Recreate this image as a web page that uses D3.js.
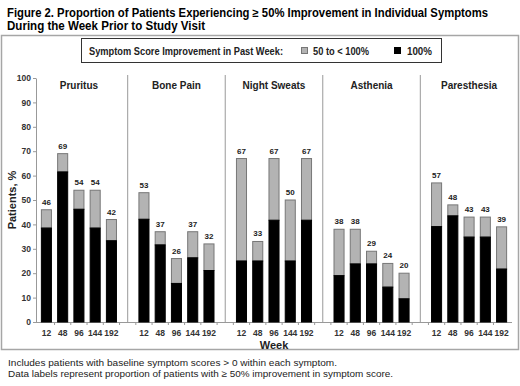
<!DOCTYPE html>
<html>
<head>
<meta charset="utf-8">
<script src="https://cdn.jsdelivr.net/npm/d3@7"></script>
<style>
  body { margin: 0; background: #fff; }
  text { font-family: "Liberation Sans", Arial, sans-serif; }
</style>
</head>
<body>
<div id="chart"></div>
<script>
const weeks = ["12", "48", "96", "144", "192"];
const symptoms = ["Pruritus", "Bone Pain", "Night Sweats", "Asthenia", "Paresthesia"];
// % of patients with 100% improvement (black part)
const full = [
  [38.5, 61.5, 46.2, 38.5, 33.3],
  [42.1, 31.6, 15.8, 26.3, 21.1],
  [25, 25, 41.7, 25, 41.7],
  [19.0, 23.8, 23.8, 14.3, 9.5],
  [39.1, 43.5, 34.8, 34.8, 21.7]
];
// % with >= 50% improvement (bar total / data label)
const total = [
  [46, 69, 54, 54, 42],
  [53, 37, 26, 37, 32],
  [67, 33, 67, 50, 67],
  [38, 38, 29, 24, 20],
  [57, 48, 43, 43, 39]
];
const yTicks = [0, 10, 20, 30, 40, 50, 60, 70, 80, 90, 100];

const W = 520, H = 386;
const svg = d3.select("#chart").append("svg")
  .attr("width", W).attr("height", H);

// categories: 5 weeks per symptom, blank slot between symptoms
const cats = [];
symptoms.forEach((s, i) => {
  weeks.forEach(w => cats.push(s + "|" + w));
  if (i < symptoms.length - 1) cats.push("gap" + i);
});

const x = d3.scaleBand().domain(cats).range([36, 512])
  .paddingInner(0.32).paddingOuter(0.3);
const y = d3.scaleLinear().domain([0, 100]).range([322, 78]);

// title
svg.append("text").attr("x", 7).attr("y", 16.5)
  .attr("font-size", 12).attr("font-weight", "bold")
  .attr("textLength", 481).attr("lengthAdjust", "spacingAndGlyphs")
  .text("Figure 2. Proportion of Patients Experiencing \u2265 50% Improvement in Individual Symptoms");
svg.append("text").attr("x", 7).attr("y", 29.5)
  .attr("font-size", 12).attr("font-weight", "bold")
  .attr("textLength", 198).attr("lengthAdjust", "spacingAndGlyphs")
  .text("During the Week Prior to Study Visit");

// outer frame
svg.append("rect").attr("x", 1.5).attr("y", 35.5).attr("width", 517).attr("height", 314)
  .attr("fill", "none").attr("stroke", "#a6a6a6").attr("stroke-width", 1.5);

// legend
const lg = svg.append("g");
lg.append("rect").attr("x", 81.5).attr("y", 38.5).attr("width", 360).attr("height", 24)
  .attr("fill", "#fff").attr("stroke", "#333");
lg.append("text").attr("x", 89).attr("y", 54.5).attr("font-size", 10).attr("font-weight", "bold")
  .attr("fill", "#222")
  .attr("textLength", 194).attr("lengthAdjust", "spacingAndGlyphs")
  .text("Symptom Score Improvement in Past Week:");
lg.append("rect").attr("x", 301.5).attr("y", 47.5).attr("width", 6).attr("height", 6)
  .attr("fill", "#b3b3b3").attr("stroke", "#777");
lg.append("text").attr("x", 313).attr("y", 54.5).attr("font-size", 10).attr("font-weight", "bold")
  .attr("fill", "#222")
  .attr("textLength", 56).attr("lengthAdjust", "spacingAndGlyphs")
  .text("50 to < 100%");
lg.append("rect").attr("x", 394.5).attr("y", 47.5).attr("width", 6).attr("height", 6)
  .attr("fill", "#000").attr("stroke", "#000");
lg.append("text").attr("x", 407).attr("y", 54.5).attr("font-size", 10).attr("font-weight", "bold")
  .attr("fill", "#222")
  .attr("textLength", 25).attr("lengthAdjust", "spacingAndGlyphs")
  .text("100%");

// y axis
const yAxis = svg.append("g").attr("transform", "translate(36,0)")
  .call(d3.axisLeft(y).tickValues(yTicks).tickSize(3).tickSizeOuter(0));
yAxis.select(".domain").attr("stroke", "#999");
yAxis.selectAll(".tick line").attr("stroke", "#999");
yAxis.selectAll(".tick text").attr("font-size", 8.5).attr("font-weight", "bold")
  .attr("fill", "#333").attr("x", -5)
  .style("font-family", "'Liberation Sans', Arial, sans-serif");

svg.append("text")
  .attr("transform", "translate(16,200) rotate(-90)")
  .attr("text-anchor", "middle").attr("font-size", 11).attr("font-weight", "bold")
  .attr("fill", "#222")
  .text("Patients, %");

// x axis line + small ticks between categories
svg.append("line").attr("x1", 36).attr("x2", 512).attr("y1", 322.5).attr("y2", 322.5)
  .attr("stroke", "#999");
svg.selectAll(".xtick").data(cats.slice(1)).enter().append("line")
  .attr("x1", d => x(d) - x.step() * x.paddingInner() / 2)
  .attr("x2", d => x(d) - x.step() * x.paddingInner() / 2)
  .attr("y1", 322.5).attr("y2", 325)
  .attr("stroke", "#999");

// separators between symptom panels
svg.selectAll(".sep").data(cats.filter(c => c.startsWith("gap"))).enter().append("line")
  .attr("x1", d => x(d) + x.bandwidth() / 2).attr("x2", d => x(d) + x.bandwidth() / 2)
  .attr("y1", 75).attr("y2", 322)
  .attr("stroke", "#999");

// bars
const rows = [];
symptoms.forEach((s, i) => weeks.forEach((w, j) =>
  rows.push({ key: s + "|" + w, week: w, full: full[i][j], total: total[i][j] })));

svg.selectAll(".part").data(rows).enter().append("rect")
  .attr("x", d => x(d.key) + 0.5).attr("width", x.bandwidth() - 1)
  .attr("y", d => y(d.total)).attr("height", d => y(d.full) - y(d.total))
  .attr("fill", "#b3b3b3").attr("stroke", "#777").attr("stroke-width", 1);

svg.selectAll(".fullbar").data(rows).enter().append("rect")
  .attr("x", d => x(d.key) + 0.5).attr("width", x.bandwidth() - 1)
  .attr("y", d => y(d.full)).attr("height", d => y(0) - y(d.full))
  .attr("fill", "#000").attr("stroke", "#000").attr("stroke-width", 1);

svg.selectAll(".lbl").data(rows).enter().append("text")
  .attr("x", d => x(d.key) + x.bandwidth() / 2).attr("y", d => y(d.total) - 5)
  .attr("text-anchor", "middle").attr("font-size", 8).attr("font-weight", "bold")
  .attr("fill", "#222")
  .text(d => d.total);

// week tick labels
svg.selectAll(".wk").data(rows).enter().append("text")
  .attr("x", d => x(d.key) + x.bandwidth() / 2).attr("y", 336)
  .attr("text-anchor", "middle").attr("font-size", 8.5).attr("font-weight", "bold")
  .attr("fill", "#333")
  .text(d => d.week);

// panel titles
svg.selectAll(".ptitle").data(symptoms).enter().append("text")
  .attr("x", d => x(d + "|96") + x.bandwidth() / 2).attr("y", 89)
  .attr("text-anchor", "middle").attr("font-size", 10).attr("font-weight", "bold")
  .attr("fill", "#222")
  .text(d => d);

svg.append("text").attr("x", 274).attr("y", 349)
  .attr("text-anchor", "middle").attr("font-size", 11).attr("font-weight", "bold")
  .attr("fill", "#222")
  .text("Week");

// footnotes
svg.append("text").attr("x", 8).attr("y", 365.5).attr("font-size", 9.5)
  .attr("fill", "#222")
  .attr("textLength", 329).attr("lengthAdjust", "spacingAndGlyphs")
  .text("Includes patients with baseline symptom scores > 0 within each symptom.");
svg.append("text").attr("x", 8).attr("y", 377).attr("font-size", 9.5)
  .attr("fill", "#222")
  .attr("textLength", 385).attr("lengthAdjust", "spacingAndGlyphs")
  .text("Data labels represent proportion of patients with \u2265 50% improvement in symptom score.");
</script>
</body>
</html>
